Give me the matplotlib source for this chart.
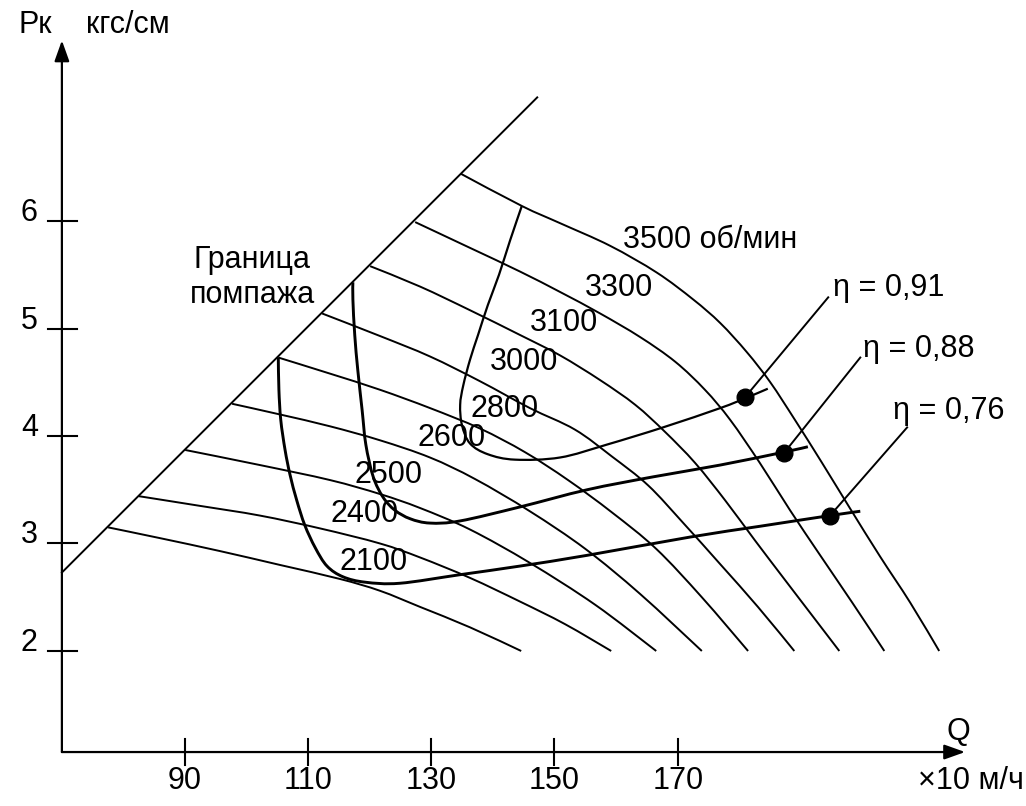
import matplotlib
matplotlib.use('Agg')
import matplotlib.pyplot as plt
from matplotlib.path import Path
from matplotlib.patches import PathPatch

plt.rcParams['font.family'] = ['Liberation Sans', 'DejaVu Sans']

# Q in 10^3 m3/h, Pk in kgf/cm2
surge_q = [70.1, 147.2]
surge_p = [2.73, 7.15]

speed_names = ['2100', '2400', '2500', '2600', '2800', '3000', '3100', '3300', '3500 об/мин']

q_2100 = [77.6, 86.0, 95.7, 105.5, 115.2, 121.7, 128.2, 136.3, 144.6]
p_2100 = [3.15, 3.05, 2.93, 2.80, 2.67, 2.56, 2.41, 2.22, 2.00]

q_2400 = [82.6, 92.5, 102.2, 112.0, 121.7, 128.2, 136.3, 144.4, 151.7, 159.2]
p_2400 = [3.44, 3.35, 3.26, 3.14, 3.00, 2.87, 2.68, 2.46, 2.25, 2.00]

q_2500 = [90.1, 102.2, 113.6, 121.7, 128.2, 136.3, 146.0, 156.6, 166.5]
p_2500 = [3.87, 3.73, 3.59, 3.46, 3.33, 3.13, 2.82, 2.43, 2.00]

q_2600 = [97.7, 105.5, 113.6, 121.7, 129.8, 137.1, 146.0, 155.0, 163.9, 173.9]
p_2600 = [4.30, 4.20, 4.09, 3.96, 3.80, 3.60, 3.30, 2.95, 2.53, 2.00]

q_2800 = [105.2, 113.6, 121.7, 129.8, 137.9, 145.2, 152.2, 159.3, 166.5, 173.9, 181.4]
p_2800 = [4.73, 4.58, 4.43, 4.26, 4.07, 3.85, 3.59, 3.29, 2.95, 2.50, 2.00]

q_3000 = [112.3, 121.7, 129.8, 137.9, 146.0, 153.3, 159.3, 165.2, 170.9, 177.0, 183.0, 188.9]
p_3000 = [5.14, 4.93, 4.74, 4.51, 4.26, 4.06, 3.81, 3.54, 3.19, 2.80, 2.41, 2.00]

q_3100 = [120.1, 128.2, 136.3, 144.4, 150.9, 157.4, 163.1, 167.9, 172.8, 177.7, 182.5, 187.4, 191.8, 196.2]
p_3100 = [5.58, 5.39, 5.17, 4.94, 4.75, 4.52, 4.29, 4.04, 3.75, 3.40, 3.03, 2.66, 2.33, 2.00]

q_3300 = [127.4, 136.3, 144.4, 150.9, 157.4, 163.9, 169.6, 174.4, 178.5, 183.3, 188.2, 193.1, 198.3, 203.5]
p_3300 = [5.99, 5.75, 5.53, 5.34, 5.14, 4.92, 4.69, 4.43, 4.15, 3.75, 3.31, 2.89, 2.45, 2.00]

q_3500 = [134.8, 144.7, 150.9, 159.0, 166.6, 172.5, 176.9, 181.2, 185.0, 189.0, 193.4, 197.9, 202.8, 207.7, 212.4]
p_3500 = [6.44, 6.14, 5.98, 5.77, 5.52, 5.27, 5.05, 4.78, 4.50, 4.15, 3.75, 3.33, 2.88, 2.45, 2.00]

# efficiency contours
eta_names = ['η = 0,91', 'η = 0,88', 'η = 0,76']

q_e91 = [144.7, 142.8, 141.0, 139.2, 137.6, 136.3, 135.2, 134.7, 135.0, 136.3, 139.2, 143.6,
         150.9, 158.5, 167.6, 176.9, 180.9, 184.6]
p_e91 = [6.14, 5.82, 5.50, 5.22, 4.94, 4.71, 4.47, 4.29, 4.10, 3.93, 3.83, 3.78,
         3.80, 3.92, 4.08, 4.26, 4.35, 4.44]

q_e88 = [117.3, 117.3, 117.6, 118.1, 118.8, 119.4, 120.6, 122.2, 124.1, 126.6, 129.8, 134.7,
         144.4, 155.3, 166.0, 176.9, 187.2, 191.1]
p_e88 = [5.43, 5.27, 4.94, 4.61, 4.24, 3.92, 3.62, 3.43, 3.31, 3.23, 3.19, 3.21,
         3.34, 3.50, 3.62, 3.73, 3.85, 3.90]

q_e76 = [105.2, 105.3, 105.6, 106.3, 107.1, 108.2, 109.5, 111.2, 113.1, 115.7, 119.3, 124.9,
         134.7, 144.4, 155.3, 172.0, 183.3, 194.7, 199.6]
p_e76 = [4.73, 4.43, 4.15, 3.87, 3.64, 3.40, 3.17, 2.96, 2.79, 2.69, 2.64, 2.63,
         2.71, 2.79, 2.89, 3.06, 3.16, 3.26, 3.30]

# marked points on the efficiency lines and leader ends
dot_q = [180.9, 187.2, 194.7]
dot_p = [4.36, 3.84, 3.26]
lead_q = [194.4, 199.6, 207.2]
lead_p = [5.29, 4.73, 4.08]

x_ticks = [90, 110, 130, 150, 170]
y_ticks = [2, 3, 4, 5, 6]

speeds = [(q_2100, p_2100), (q_2400, p_2400), (q_2500, p_2500), (q_2600, p_2600),
          (q_2800, p_2800), (q_3000, p_3000), (q_3100, p_3100), (q_3300, p_3300),
          (q_3500, p_3500)]
etas = [(q_e91, p_e91), (q_e88, p_e88), (q_e76, p_e76)]


def smooth_curve(ax, q, p, lw):
    """Draw a curve through all points using Catmull-Rom style cubic Bezier segments."""
    pts = list(zip(q, p))
    verts = [pts[0]]
    codes = [Path.MOVETO]
    n = len(pts)
    for i in range(n - 1):
        p0 = pts[max(i - 1, 0)]
        p1 = pts[i]
        p2 = pts[i + 1]
        p3 = pts[min(i + 2, n - 1)]
        c1 = (p1[0] + (p2[0] - p0[0]) / 6, p1[1] + (p2[1] - p0[1]) / 6)
        c2 = (p2[0] - (p3[0] - p1[0]) / 6, p2[1] - (p3[1] - p1[1]) / 6)
        verts += [c1, c2, p2]
        codes += [Path.CURVE4] * 3
    ax.add_patch(PathPatch(Path(verts, codes), fill=False, edgecolor='black', lw=lw,
                           capstyle='butt', joinstyle='round'))


fig = plt.figure(figsize=(10.26, 8.06), dpi=100)
ax = fig.add_axes([0, 0, 1, 1])
ax.set_xlim(60.06, 226.48)
ax.set_ylim(0.558, 8.056)
ax.axis('off')

FS = 22
X0, Y0 = 70.1, 1.06

# axes with arrows
arrow = dict(arrowstyle='-|>,head_length=0.7,head_width=0.25', color='black', lw=1.6,
             shrinkA=0, shrinkB=0, mutation_scale=18)
ax.annotate('', xy=(X0, 7.68), xytext=(X0, Y0), arrowprops=arrow)
ax.annotate('', xy=(216.6, Y0), xytext=(X0, Y0), arrowprops=arrow)

for t in y_ticks:
    ax.plot([X0 - 2.3, X0 + 2.4], [t, t], color='black', lw=1.5)
    ax.text(66.2, t, str(t), ha='right', va='baseline', fontsize=FS)
for t in x_ticks:
    ax.plot([t, t], [Y0 - 0.12, Y0 + 0.12], color='black', lw=1.5)
    ax.text(t, 0.72, str(t), ha='center', va='baseline', fontsize=FS)

ax.text(63.0, 7.82, 'Pк', ha='left', va='center', fontsize=FS)
ax.text(74.0, 7.82, 'кгс/см', ha='left', va='center', fontsize=FS)
ax.text(215.5, 1.25, 'Q', ha='center', va='center', fontsize=FS)
ax.text(209.0, 0.72, '×10 м/ч', ha='left', va='baseline', fontsize=FS)

# surge boundary
ax.plot(surge_q, surge_p, color='black', lw=1.4)
ax.text(101.0, 5.64, 'Граница', ha='center', va='center', fontsize=FS)
ax.text(101.0, 5.31, 'помпажа', ha='center', va='center', fontsize=FS)

for q, p in speeds:
    smooth_curve(ax, q, p, 1.4)

for (q, p), lw in zip(etas, [1.6, 2.1, 2.1]):
    smooth_curve(ax, q, p, lw)

ax.plot(dot_q, dot_p, 'o', color='black', markersize=12)
for dq, dp, lq, lp in zip(dot_q, dot_p, lead_q, lead_p):
    ax.plot([dq, lq], [dp, lp], color='black', lw=1.4)

speed_label_pos = [(115.2, 2.83), (113.6, 3.27), (117.6, 3.64), (127.7, 3.98), (136.3, 4.25),
                   (139.5, 4.69), (146.0, 5.05), (155.0, 5.38), (161.1, 5.82)]
for name, (lx, ly) in zip(speed_names, speed_label_pos):
    ax.text(lx, ly, name, ha='left', va='center', fontsize=FS)

eta_label_pos = [(195.2, 5.38), (200.1, 4.81), (204.9, 4.23)]
for name, (lx, ly) in zip(eta_names, eta_label_pos):
    ax.text(lx, ly, name, ha='left', va='center', fontsize=FS)

fig.savefig('out.png', dpi=100)
